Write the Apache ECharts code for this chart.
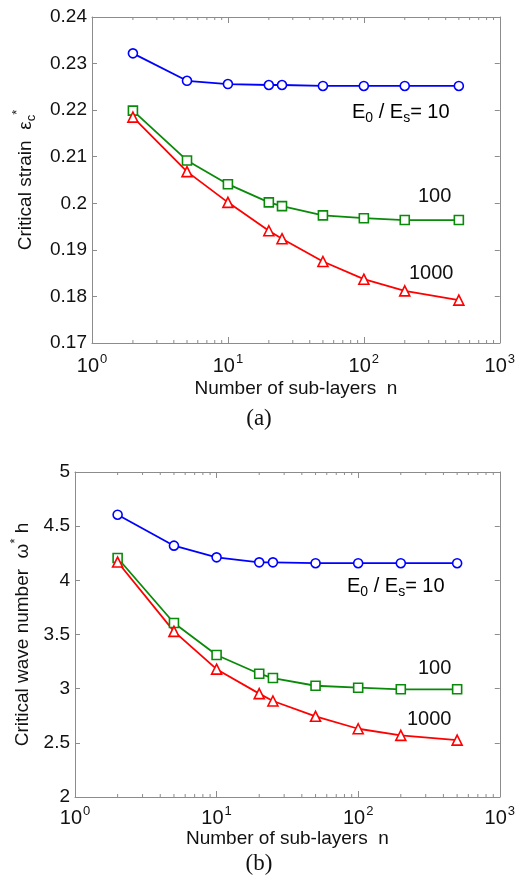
<!DOCTYPE html>
<html>
<head>
<meta charset="utf-8">
<script src="https://cdn.jsdelivr.net/npm/echarts@6/dist/echarts.min.js"></script>
<style>
  html, body { margin: 0; padding: 0; background: #fff; }
  #chart { width: 518px; height: 887px; }
</style>
</head>
<body>
<div id="chart"></div>
<script>
// Number of sub-layers n (shared by both panels).
const layers = [2, 5, 10, 20, 25, 50, 100, 200, 500];

// Panel (a): critical strain.
const strain10 = [0.2322, 0.2263, 0.2256, 0.2254, 0.2254, 0.2252, 0.2252, 0.2252, 0.2252];
const strain100 = [0.2199, 0.2092, 0.2041, 0.2002, 0.1994, 0.1974, 0.1968, 0.1964, 0.1964];
const strain1000 = [0.2185, 0.2068, 0.2002, 0.1941, 0.1924, 0.1875, 0.1837, 0.1812, 0.1792];

// Panel (b): critical wave number.
const wave10 = [4.606, 4.32, 4.212, 4.166, 4.166, 4.158, 4.158, 4.158, 4.158];
const wave100 = [4.206, 3.606, 3.311, 3.138, 3.098, 3.027, 3.009, 2.994, 2.994];
const wave1000 = [4.169, 3.529, 3.18, 2.954, 2.886, 2.745, 2.63, 2.569, 2.525];

const minorTicks = [2, 3, 4, 5, 6, 7, 8, 9, 20, 30, 40, 50, 60, 70, 80, 90, 200, 300, 400, 500, 600, 700, 800, 900];

const FONT = 'Liberation Sans, Arial, sans-serif';
const AXIS_COLOR = '#8c8c8c';
const BLUE = '#0000ff';
const GREEN = '#0a8a0a';
const RED = '#ff0000';

const chart = echarts.init(document.getElementById('chart'));

const pair = (ys) => layers.map((n, i) => [n, ys[i]]);

const lineSeries = (gridIdx, ys, color, symbol) => ({
    type: 'line',
    xAxisIndex: gridIdx * 2,
    yAxisIndex: gridIdx * 2,
    data: pair(ys),
    symbol: symbol,
    symbolSize: symbol === 'triangle' ? 10 : 9,
    showSymbol: true,
    itemStyle: {color: '#fff', borderColor: color, borderWidth: 1.6},
    lineStyle: {color: color, width: 1.8},
    z: symbol === 'circle' ? 3 : 4,
    animation: false,
});

const minorTickSeries = (gridIdx, yMin, yMax) => ({
    type: 'custom',
    xAxisIndex: gridIdx * 2,
    yAxisIndex: gridIdx * 2,
    data: minorTicks.map((v) => [v, yMin]),
    clip: false,
    silent: true,
    animation: false,
    renderItem: (params, api) => {
        const v = api.value(0);
        const bottom = api.coord([v, yMin]);
        const top = api.coord([v, yMax]);
        const style = {stroke: AXIS_COLOR, lineWidth: 1};
        return {
            type: 'group',
            children: [
                {type: 'line', shape: {x1: bottom[0], y1: bottom[1], x2: bottom[0], y2: bottom[1] - 3}, style},
                {type: 'line', shape: {x1: top[0], y1: top[1], x2: top[0], y2: top[1] + 3}, style},
            ],
        };
    },
});

const xAxes = (gridIdx) => {
    const base = {
        type: 'log',
        logBase: 10,
        min: 1,
        max: 1000,
        gridIndex: gridIdx,
        axisLine: {lineStyle: {color: AXIS_COLOR, width: 1}},
        axisTick: {inside: true, length: 6, lineStyle: {color: AXIS_COLOR}},
        splitLine: {show: false},
    };
    return [
        Object.assign({}, base, {
            position: 'bottom',
            name: 'Number of sub-layers  n',
            nameLocation: 'middle',
            nameGap: gridIdx === 0 ? 36 : 29,
            nameTextStyle: {fontFamily: FONT, fontSize: 19, color: '#111'},
            axisLabel: {
                margin: gridIdx === 0 ? 10 : 8,
                formatter: (v) => '{b|10}{s|' + Math.round(Math.log10(v)) + '}',
                rich: {
                    b: {fontFamily: FONT, fontSize: 20, color: '#111'},
                    s: {fontFamily: FONT, fontSize: 13, color: '#111', padding: [0, 0, 14, 1]},
                },
            },
        }),
        Object.assign({}, base, {position: 'top', axisLabel: {show: false}}),
    ];
};

const yAxes = (gridIdx, min, max, interval, name, gap) => {
    const base = {
        type: 'value',
        min: min,
        max: max,
        interval: interval,
        gridIndex: gridIdx,
        axisLine: {show: true, lineStyle: {color: AXIS_COLOR, width: 1}},
        axisTick: {show: true, inside: true, length: 5, lineStyle: {color: AXIS_COLOR}},
        splitLine: {show: false},
    };
    return [
        Object.assign({}, base, {
            position: 'left',
            name: name,
            nameLocation: 'middle',
            nameGap: gap,
            nameRotate: 90,
            nameTextStyle: {
                fontFamily: FONT, fontSize: 19, color: '#111',
                rich: {
                    t: {fontFamily: FONT, fontSize: 19, color: '#111'},
                    sub: {fontFamily: FONT, fontSize: 13, color: '#111', padding: [11, 0, 0, 0]},
                    sup: {fontFamily: FONT, fontSize: 13, color: '#111', padding: [0, 0, 16, 0]},
                },
            },
            axisLabel: {
                margin: 5,
                fontFamily: FONT, fontSize: 19, color: '#111',
                formatter: (v) => String(parseFloat(v.toFixed(4))),
            },
        }),
        Object.assign({}, base, {position: 'right', axisLabel: {show: false}}),
    ];
};

const annotations = (top10, top100, top1000, x10, x100, x1000) => {
    const rich = {
        t: {fontFamily: FONT, fontSize: 20, color: '#111'},
        sub: {fontFamily: FONT, fontSize: 14, color: '#111', padding: [13, 0, 0, 0]},
    };
    return [
        {type: 'text', left: x10, top: top10, style: {text: '{t|E}{sub|0}{t| / E}{sub|s}{t|= 10}', rich}},
        {type: 'text', left: x100, top: top100, style: {text: '100', font: '20px ' + FONT, fill: '#111'}},
        {type: 'text', left: x1000, top: top1000, style: {text: '1000', font: '20px ' + FONT, fill: '#111'}},
    ];
};

const option = {
    backgroundColor: '#fff',
    animation: false,
    grid: [
        {left: 92, right: 14, top: 17, height: 326},
        {left: 75, right: 14, top: 472, height: 325},
    ],
    xAxis: [...xAxes(0), ...xAxes(1)],
    yAxis: [
        ...yAxes(0, 0.17, 0.24, 0.01, '{t|Critical strain  ε}{sub|c}{sup|*}', 52),
        ...yAxes(1, 2, 5, 0.5, '{t|Critical wave number  ω}{sup|*}{t| h}', 36),
    ],
    series: [
        lineSeries(0, strain10, BLUE, 'circle'),
        lineSeries(0, strain100, GREEN, 'rect'),
        lineSeries(0, strain1000, RED, 'triangle'),
        minorTickSeries(0, 0.17, 0.24),
        lineSeries(1, wave10, BLUE, 'circle'),
        lineSeries(1, wave100, GREEN, 'rect'),
        lineSeries(1, wave1000, RED, 'triangle'),
        minorTickSeries(1, 2, 5),
    ],
    graphic: [
        ...annotations(102, 186, 263, 352, 418, 409),
        ...annotations(576, 658, 709, 347, 418, 407),
        {type: 'text', left: 'center', top: 407, style: {text: '(a)', font: '23px Liberation Serif, Times New Roman, serif', fill: '#111'}},
        {type: 'text', left: 'center', top: 852, style: {text: '(b)', font: '23px Liberation Serif, Times New Roman, serif', fill: '#111'}},
    ],
};

chart.setOption(option);
</script>
</body>
</html>
